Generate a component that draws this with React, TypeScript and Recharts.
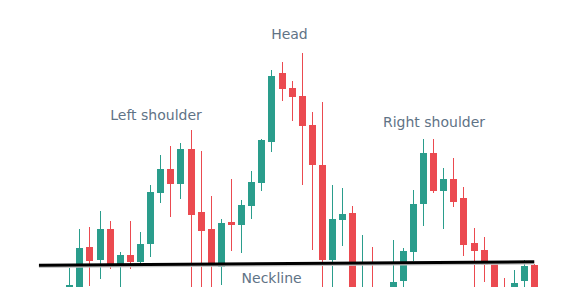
import React from 'react';
import { ComposedChart, Bar, XAxis, YAxis, ReferenceLine, ReferenceDot } from 'recharts';

const opens = [99.7,99.5,104.0,102.7,105.8,102.0,103.2,102.5,104.3,109.4,111.8,110.3,113.8,107.5,105.8,102.0,106.5,106.2,108.1,110.4,114.5,121.4,119.9,119.1,116.2,112.2,102.7,106.7,107.4,99.1,99.7,99.6,99.6,100.6,103.5,108.3,113.4,109.6,110.8,108.9,104.4,103.7,102.4,99.7,99.5,100.6,102.2];
const closes = [100.2,103.9,102.6,105.8,102.0,103.2,102.5,104.3,109.5,111.8,110.3,113.8,107.2,105.6,102.2,106.4,106.2,108.2,110.5,114.7,121.1,119.8,119.0,116.1,112.2,102.7,106.8,107.3,99.2,99.7,99.0,99.1,100.5,103.6,108.3,113.4,109.6,110.8,108.5,104.2,103.6,102.2,99.2,99.2,100.4,102.1,99.2];
const highs = [101.9,105.8,106.0,107.6,106.6,103.5,106.6,105.5,110.2,113.2,114.1,114.4,115.7,113.6,109.1,106.8,110.8,108.7,111.6,114.8,121.7,122.5,120.6,123.4,117.5,118.5,110.2,109.9,108.1,105.2,104.0,99.8,104.7,103.9,109.7,114.8,114.8,111.9,112.9,110.0,105.9,105.0,102.4,100.9,101.7,102.7,102.3];
const lows = [99.0,98.9,100.1,100.8,101.8,99.5,101.8,102.1,103.0,108.4,107.0,108.8,98.7,98.7,98.7,100.2,103.6,103.4,106.8,109.6,113.5,118.6,116.6,110.2,103.7,98.7,98.7,104.1,98.7,98.5,98.5,98.6,98.8,98.7,102.6,106.1,109.4,105.8,108.0,103.1,98.7,100.5,98.7,98.7,98.7,98.7,98.7];

const neckline = [
  { x: -3, y: 102.17 },
  { x: 46, y: 102.53 },
];

const annotations = [
  { label: 'Left shoulder', x: 8.58, y: 117.2 },
  { label: 'Head', x: 21.78, y: 125.3 },
  { label: 'Right shoulder', x: 36.08, y: 116.53 },
  { label: 'Neckline', x: 20.02, y: 100.87 },
];

const UP = '#2a9d8c';
const DOWN = '#eb4a50';

const data = opens.map((o, i) => ({
  x: i,
  open: o,
  close: closes[i],
  high: highs[i],
  low: lows[i],
  range: [lows[i], highs[i]],
}));

const Candle = (props: any) => {
  const { x, y, width, height, payload } = props;
  if (!payload) return null;
  const { open, close, high, low } = payload;
  const ppp = height / (high - low);
  const cx = Math.floor(x + width / 2) + 0.5;
  const top = y + (high - Math.max(open, close)) * ppp;
  const bot = y + (high - Math.min(open, close)) * ppp;
  const color = close >= open ? UP : DOWN;
  const bw = 7;
  return (
    <g>
      <line x1={cx} x2={cx} y1={y} y2={y + height} stroke={color} strokeWidth={1} />
      <rect x={cx - bw / 2} y={top} width={bw} height={Math.max(1, bot - top)} fill={color} />
    </g>
  );
};

export default function App() {
  return (
    <div style={{ position: 'absolute', left: 0, top: 0, background: '#fff' }}>
      <ComposedChart width={583} height={287} data={data} margin={{ top: 0, right: 0, bottom: 0, left: 0 }}>
        <XAxis dataKey="x" type="number" domain={[-6.855, 50.82]} allowDataOverflow hide />
        <YAxis type="number" domain={[100, 128.7]} allowDataOverflow hide />
        <Bar dataKey="range" barSize={7} shape={<Candle />} isAnimationActive={false} />
        <ReferenceLine
          segment={[{ x: neckline[0].x, y: neckline[0].y - 0.13 }, { x: neckline[1].x, y: neckline[1].y - 0.13 }]}
          stroke="#c4c4c4"
          strokeWidth={3}
        />
        <ReferenceLine segment={neckline} stroke="#000" strokeWidth={3} />
        {annotations.map((a) => (
          <ReferenceDot
            key={a.label}
            x={a.x}
            y={a.y}
            r={0}
            stroke="none"
            fill="none"
            label={{
              value: a.label,
              position: 'center',
              fill: '#5f7386',
              fontSize: 14,
              fontFamily: 'DejaVu Sans',
            }}
          />
        ))}
      </ComposedChart>
    </div>
  );
}
